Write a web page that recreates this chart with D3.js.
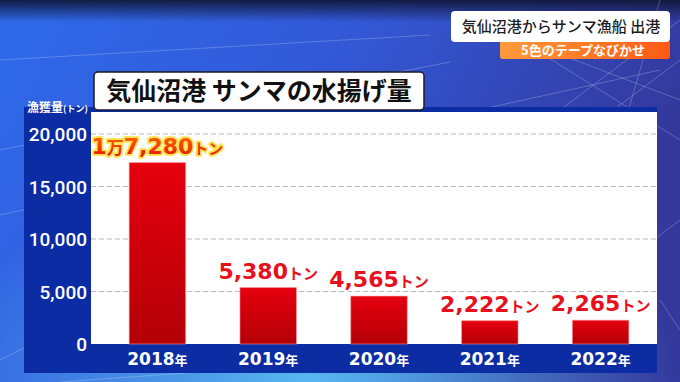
<!DOCTYPE html>
<html>
<head>
<meta charset="utf-8">
<script src="https://cdn.jsdelivr.net/npm/d3@7"></script>
<style>
  html, body { margin: 0; padding: 0; background: #2c4fc8; }
  svg { display: block; }
</style>
</head>
<body>
<div id="chart"></div>
<script>
// data
var years = ['2018', '2019', '2020', '2021', '2022'];
var catchTons = [17280, 5380, 4565, 2222, 2265];
var valueLabels = ['7,280', '5,380', '4,565', '2,222', '2,265'];
var yTicks = [0, 5000, 10000, 15000, 20000];

var title = '気仙沼港 サンマの水揚げ量';
var headline = '気仙沼港からサンマ漁船 出港';
var subline = '5色のテープなびかせ';

var width = 680;
var height = 382;

var svg = d3.select('#chart').append('svg')
    .attr('width', width)
    .attr('height', height);

var defs = svg.append('defs');

// background gradients
var bg = defs.append('linearGradient').attr('id', 'bg')
    .attr('x1', 0).attr('y1', 0).attr('x2', 1).attr('y2', 0.3);
bg.append('stop').attr('offset', 0).attr('stop-color', '#2e6aea');
bg.append('stop').attr('offset', 0.5).attr('stop-color', '#3358d6');
bg.append('stop').attr('offset', 1).attr('stop-color', '#34389c');

var glow = defs.append('radialGradient').attr('id', 'glow')
    .attr('cx', 0.45).attr('cy', 1.0).attr('r', 0.55);
glow.append('stop').attr('offset', 0).attr('stop-color', '#5cc4f6').attr('stop-opacity', 0.9);
glow.append('stop').attr('offset', 1).attr('stop-color', '#5cc4f6').attr('stop-opacity', 0);

var topShade = defs.append('linearGradient').attr('id', 'topShade')
    .attr('x1', 0).attr('y1', 0).attr('x2', 0).attr('y2', 1);
topShade.append('stop').attr('offset', 0).attr('stop-color', '#10173a').attr('stop-opacity', 0.95);
topShade.append('stop').attr('offset', 1).attr('stop-color', '#10173a').attr('stop-opacity', 0);

var barGrad = defs.append('linearGradient').attr('id', 'barGrad')
    .attr('x1', 0).attr('y1', 0).attr('x2', 0).attr('y2', 1);
barGrad.append('stop').attr('offset', 0).attr('stop-color', '#e6000e');
barGrad.append('stop').attr('offset', 1).attr('stop-color', '#b30007');

var orange = defs.append('linearGradient').attr('id', 'orange')
    .attr('x1', 0).attr('y1', 0).attr('x2', 1).attr('y2', 0);
orange.append('stop').attr('offset', 0).attr('stop-color', '#ff9a3a');
orange.append('stop').attr('offset', 1).attr('stop-color', '#ff5a14');

var topLabelGrad = defs.append('linearGradient').attr('id', 'topLabelGrad')
    .attr('x1', 0).attr('y1', 0).attr('x2', 0).attr('y2', 1);
topLabelGrad.append('stop').attr('offset', 0).attr('stop-color', '#ff6a00');
topLabelGrad.append('stop').attr('offset', 1).attr('stop-color', '#e41400');

svg.append('rect').attr('width', width).attr('height', height).attr('fill', 'url(#bg)');
svg.append('rect').attr('width', width).attr('height', height).attr('fill', 'url(#glow)');
svg.append('rect').attr('width', width).attr('height', 22).attr('fill', 'url(#topShade)');

// faint perspective lines in the background
var bgLines = [
    [0, 60, 430, 35], [0, 215, 660, 70], [0, 150, 450, 62],
    [470, 20, 680, 100], [520, 40, 680, 140], [560, 110, 680, 20],
    [600, 120, 680, 60], [620, 140, 660, 0], [640, 250, 680, 220],
    [660, 300, 680, 330], [60, 382, 200, 372], [0, 360, 40, 340]
];
svg.selectAll('.bgline')
    .data(bgLines)
    .enter().append('line')
    .attr('x1', function (d) { return d[0]; })
    .attr('y1', function (d) { return d[1]; })
    .attr('x2', function (d) { return d[2]; })
    .attr('y2', function (d) { return d[3]; })
    .attr('stroke', '#ffffff')
    .attr('stroke-opacity', 0.22)
    .attr('stroke-width', 1);

// chart panel
var panel = { left: 24, top: 107, right: 657, bottom: 373 };
var plot = { left: 91, top: 112, right: 657, bottom: 344 };

svg.append('rect')
    .attr('x', panel.left).attr('y', panel.top)
    .attr('width', panel.right - panel.left)
    .attr('height', panel.bottom - panel.top)
    .attr('fill', '#0b2ca2');

svg.append('rect')
    .attr('x', plot.left).attr('y', plot.top)
    .attr('width', plot.right - plot.left)
    .attr('height', plot.bottom - plot.top)
    .attr('fill', '#ffffff');

// scales
var x = d3.scaleBand()
    .domain(years)
    .range([102, 656])
    .paddingInner(0.49)
    .paddingOuter(0.245);

var y = d3.scaleLinear()
    .domain([0, 20000])
    .range([plot.bottom, 134]);

// gridlines
svg.selectAll('.grid')
    .data(yTicks.filter(function (d) { return d > 0; }))
    .enter().append('line')
    .attr('x1', plot.left)
    .attr('x2', plot.right)
    .attr('y1', function (d) { return y(d); })
    .attr('y2', function (d) { return y(d); })
    .attr('stroke', '#b8b8b8')
    .attr('stroke-width', 1)
    .attr('stroke-dasharray', '5,3');

// y axis
var yAxis = svg.append('g')
    .attr('transform', 'translate(87,0)')
    .call(d3.axisLeft(y).tickValues(yTicks).tickSize(0).tickPadding(0).tickFormat(d3.format(',')));
yAxis.select('.domain').remove();
yAxis.selectAll('text')
    .attr('fill', '#ffffff')
    .style('font-family', 'Roboto, "Liberation Sans", sans-serif')
    .style('font-weight', '500')
    .style('font-size', '19px')
    .attr('dy', '0.36em');

// axis unit label
var unit = svg.append('text')
    .attr('x', 27)
    .attr('y', 112)
    .attr('fill', '#ffffff')
    .style('font-family', '"Noto Sans CJK JP", sans-serif')
    .style('font-weight', '700');
unit.append('tspan').style('font-size', '12px').text('漁獲量');
unit.append('tspan').style('font-size', '9px').text('(トン)');

// bars
svg.selectAll('.bar')
    .data(catchTons)
    .enter().append('rect')
    .attr('x', function (d, i) { return x(years[i]); })
    .attr('y', function (d) { return y(d); })
    .attr('width', x.bandwidth())
    .attr('height', function (d) { return y(0) - y(d); })
    .attr('fill', 'url(#barGrad)')
    .attr('stroke', '#ff9a9a')
    .attr('stroke-opacity', 0.6)
    .attr('stroke-width', 1);

// value labels
var labels = svg.selectAll('.vlabel')
    .data(catchTons)
    .enter().append('text')
    .attr('x', function (d, i) { return x(years[i]) + x.bandwidth() / 2; })
    .attr('y', function (d) { return y(d) - 9; })
    .attr('text-anchor', 'middle')
    .style('paint-order', 'stroke')
    .style('stroke-linejoin', 'round')
    .attr('fill', function (d, i) { return i === 0 ? 'url(#topLabelGrad)' : '#e8101c'; })
    .attr('stroke', function (d, i) { return i === 0 ? '#ffe45a' : '#ffffff'; })
    .attr('stroke-width', function (d, i) { return i === 0 ? 4 : 3; })
    .style('font-family', '"DejaVu Sans", sans-serif')
    .style('font-weight', '700');

labels.each(function (d, i) {
    var t = d3.select(this);
    if (i === 0) {
        t.append('tspan').style('font-size', '22px').text('1');
        t.append('tspan').style('font-size', '17px').style('font-family', '"Noto Sans CJK JP", sans-serif').text('万');
    }
    t.append('tspan').style('font-size', '22px').text(valueLabels[i]);
    t.append('tspan')
        .style('font-size', '15px')
        .style('font-family', '"Noto Sans CJK JP", sans-serif')
        .text('トン');
});

// x axis labels on the bottom strip
var xl = svg.selectAll('.xlabel')
    .data(years)
    .enter().append('text')
    .attr('x', function (d) { return x(d) + x.bandwidth() / 2; })
    .attr('y', 365)
    .attr('text-anchor', 'middle')
    .attr('fill', '#ffffff')
    .style('font-weight', '700');
xl.append('tspan')
    .style('font-family', '"DejaVu Sans", sans-serif')
    .style('font-size', '17px')
    .text(function (d) { return d; });
xl.append('tspan')
    .style('font-family', '"Noto Sans CJK JP", sans-serif')
    .style('font-size', '13px')
    .text('年');

// title box
svg.append('rect')
    .attr('x', 94).attr('y', 72)
    .attr('width', 330).attr('height', 38)
    .attr('rx', 4)
    .attr('fill', '#ffffff')
    .attr('stroke', '#1a1a2a')
    .attr('stroke-width', 1.5);
svg.append('text')
    .attr('x', 259)
    .attr('y', 100)
    .attr('text-anchor', 'middle')
    .attr('fill', '#111111')
    .style('font-family', '"Noto Sans CJK JP", sans-serif')
    .style('font-weight', '700')
    .style('font-size', '25px')
    .text(title);

// top right caption
svg.append('rect')
    .attr('x', 500).attr('y', 40)
    .attr('width', 170).attr('height', 19)
    .attr('rx', 3)
    .attr('fill', 'url(#orange)');
svg.append('rect')
    .attr('x', 451).attr('y', 11)
    .attr('width', 219).attr('height', 31)
    .attr('rx', 4)
    .attr('fill', '#ffffff');
svg.append('text')
    .attr('x', 561)
    .attr('y', 32)
    .attr('text-anchor', 'middle')
    .attr('fill', '#1c1c24')
    .style('font-family', '"Noto Sans CJK JP", sans-serif')
    .style('font-weight', '500')
    .style('font-size', '15px')
    .text(headline);
svg.append('text')
    .attr('x', 583)
    .attr('y', 55)
    .attr('text-anchor', 'middle')
    .attr('fill', '#ffffff')
    .style('font-family', '"Noto Sans CJK JP", sans-serif')
    .style('font-weight', '700')
    .style('font-size', '13px')
    .text(subline);
</script>
</body>
</html>
